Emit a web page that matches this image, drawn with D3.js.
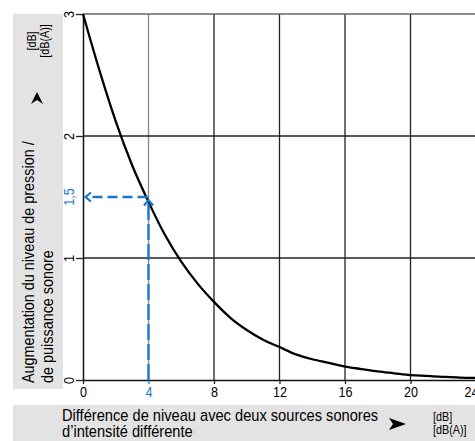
<!DOCTYPE html>
<html><head><meta charset="utf-8">
<script src="https://cdn.jsdelivr.net/npm/d3@7/dist/d3.min.js"></script>
<style>body{margin:0;background:#fff}svg{display:block}</style>
</head><body>
<svg id="chart" width="475" height="441"></svg>
<script>
// Data
const levelDifference = [0,1,2,3,4,5,6,7,8,9,10,11,12,13,14,15,16,17,18,19,20,21,22,23,24];
const levelIncrease   = [3.0,2.54,2.12,1.76,1.46,1.19,0.97,0.79,0.64,0.51,0.41,0.33,0.27,0.21,0.17,0.14,0.11,0.09,0.07,0.055,0.04,0.033,0.026,0.02,0.017];
const xTickValues = [0,4,8,12,16,20,24];
const yTickValues = [0,1,2,3];
const yTickLabels = ["0","1","2","3"];
const markerX = 4, markerY = 1.5, markerYLabel = "1,5";
const yTitle = ["Augmentation du niveau de pression /", "de puissance sonore"];
const xTitle = ["Différence de niveau avec deux sources sonores", "d’intensité différente"];
const units = ["[dB]", "[dB(A)]"];

const FONT = "'Liberation Sans',Arial,sans-serif";
const BLUE = "#1a78cc";
const INK = "#000";
const SX = 0.9; // condensed look
const svg = d3.select("#chart").style("font-family", FONT);

const x = d3.scaleLinear().domain([0,24]).range([83,476]);
const y = d3.scaleLinear().domain([0,3]).range([380,14]);

// grey panels
svg.append("rect").attr("x",13).attr("y",14).attr("width",50).attr("height",375).attr("fill","#e3e3e3");
svg.append("rect").attr("x",13).attr("y",405).attr("width",462).attr("height",36).attr("fill","#e3e3e3");

// grid
const g = svg.append("g");
g.selectAll("line.v").data(xTickValues.filter(d=>d>0)).join("line")
  .attr("x1",d=>x(d)).attr("x2",d=>x(d)).attr("y1",y(3)).attr("y2",y(0))
  .attr("stroke",d=>d===markerX?"#888":"#222").attr("stroke-width",1.3);
g.selectAll("line.h").data(yTickValues.filter(d=>d>0 && d<3)).join("line")
  .attr("x1",x(0)).attr("x2",x(24)).attr("y1",d=>y(d)).attr("y2",d=>y(d))
  .attr("stroke","#222").attr("stroke-width",1.3);
g.append("line").attr("x1",x(0)).attr("x2",x(24)).attr("y1",y(3)).attr("y2",y(3))
  .attr("stroke","#666").attr("stroke-width",1.6);

// axes
const xAxis = d3.axisBottom(x).tickValues(xTickValues).tickSize(4).tickSizeOuter(0).tickFormat(d3.format("d"));
const ax = svg.append("g").attr("transform",`translate(0,${y(0)})`).call(xAxis);
ax.select(".domain").attr("stroke","#111").attr("stroke-width",1.5);
ax.selectAll(".tick line").attr("stroke",d=>d===markerX?BLUE:"#222").attr("stroke-width",1.3);
ax.selectAll(".tick text").attr("font-family",FONT).attr("font-size",14)
  .attr("y",0).attr("dy",0)
  .attr("transform",d=>`translate(${d===24?-5:0},17) scale(${SX},1)`)
  .attr("fill",d=>d===markerX?BLUE:INK);

const yAxis = d3.axisLeft(y).tickValues(yTickValues).tickSize(7).tickSizeOuter(0).tickFormat((d,i)=>yTickLabels[i]);
const ay = svg.append("g").attr("transform",`translate(${x(0)},0)`).call(yAxis);
ay.select(".domain").attr("stroke","#111").attr("stroke-width",1.5);
ay.selectAll(".tick line").attr("stroke","#222").attr("stroke-width",1.3);
ay.selectAll(".tick text").attr("font-family",FONT).attr("font-size",14).attr("fill",INK)
  .attr("x",0).attr("dy",0).attr("text-anchor","middle")
  .attr("transform",`translate(-9,0) rotate(-90) scale(${SX},1)`);

// marker label on y
svg.append("text").attr("transform",`translate(${x(0)-9},${y(markerY)}) rotate(-90) scale(${SX},1)`)
  .attr("text-anchor","middle").attr("font-size",14).attr("fill",BLUE).text(markerYLabel);

// curve
svg.append("path").datum(levelDifference.map((d,i)=>[d,levelIncrease[i]]))
  .attr("d", d3.line().x(d=>x(d[0])).y(d=>y(d[1])).curve(d3.curveMonotoneX))
  .attr("fill","none").attr("stroke","#000").attr("stroke-width",2.3);

// blue dashed marker lines with arrows
svg.append("line").attr("x1",x(markerX)-1).attr("x2",x(0)+4).attr("y1",y(markerY)).attr("y2",y(markerY))
  .attr("stroke",BLUE).attr("stroke-width",2.4).attr("stroke-dasharray","10,5");
svg.append("line").attr("x1",x(markerX)).attr("x2",x(markerX)).attr("y1",y(0)).attr("y2",y(markerY)+3)
  .attr("stroke",BLUE).attr("stroke-width",2.4).attr("stroke-dasharray","16,4");
svg.append("path").attr("d",`M${x(0)+8},${y(markerY)-4.5} L${x(0)+2.5},${y(markerY)} L${x(0)+8},${y(markerY)+4.5}`)
  .attr("fill","none").attr("stroke",BLUE).attr("stroke-width",2.2);
svg.append("path").attr("d",`M${x(markerX)-4.5},${y(markerY)+8.5} L${x(markerX)},${y(markerY)+3} L${x(markerX)+4.5},${y(markerY)+8.5}`)
  .attr("fill","none").attr("stroke",BLUE).attr("stroke-width",2.2);

// y title
yTitle.forEach((t,i)=>{
  svg.append("text").attr("transform",`translate(${34+i*19},383) rotate(-90) scale(${SX},1)`)
    .attr("font-size",16).attr("fill",INK).text(t);
});
// y units
units.forEach((t,i)=>{
  svg.append("text").attr("transform",`translate(${36+i*13},41) rotate(-90) scale(${SX},1)`)
    .attr("text-anchor","middle").attr("font-size",12).attr("fill",INK).text(t);
});
// up arrowhead
svg.append("path").attr("d","M37,92 L43,104 L37,100 L31,104 Z").attr("fill","#000");

// x title
xTitle.forEach((t,i)=>{
  svg.append("text").attr("transform",`translate(62,${421+i*16}) scale(0.915,1)`)
    .attr("font-size",16).attr("fill",INK).text(t);
});
units.forEach((t,i)=>{
  svg.append("text").attr("transform",`translate(433,${421+i*13}) scale(${SX},1)`)
    .attr("font-size",12).attr("fill",INK).text(t);
});
// right arrowhead
svg.append("path").attr("d","M406,424 L389,418 L393,424 L389,430 Z").attr("fill","#000");
</script>
</body></html>
